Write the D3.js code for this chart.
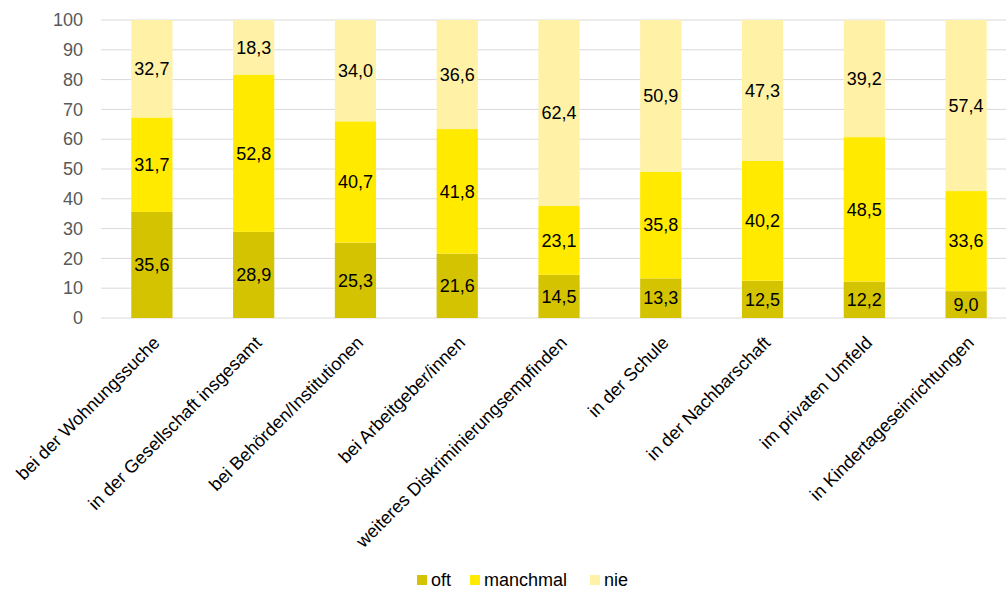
<!DOCTYPE html>
<html>
<head>
<meta charset="utf-8">
<script src="https://cdn.jsdelivr.net/npm/d3@7"></script>
<style>
  body { margin: 0; background: #fff; }
  svg { font-family: "Liberation Sans", Arial, sans-serif; }
</style>
</head>
<body>
<div class="chart"></div>
<script>
// categories and series values
const categories = [
    "bei der Wohnungssuche",
    "in der Gesellschaft insgesamt",
    "bei Behörden/Institutionen",
    "bei Arbeitgeber/innen",
    "weiteres Diskriminierungsempfinden",
    "in der Schule",
    "in der Nachbarschaft",
    "im privaten Umfeld",
    "in Kindertageseinrichtungen"
];
const oft = [35.6, 28.9, 25.3, 21.6, 14.5, 13.3, 12.5, 12.2, 9.0];
const manchmal = [31.7, 52.8, 40.7, 41.8, 23.1, 35.8, 40.2, 48.5, 33.6];
const nie = [32.7, 18.3, 34.0, 36.6, 62.4, 50.9, 47.3, 39.2, 57.4];
const seriesNames = ["oft", "manchmal", "nie"];
const yTicks = [0, 10, 20, 30, 40, 50, 60, 70, 80, 90, 100];

const W = 1006, H = 590;
const Margin = {top: 20, left: 101, bottom: 272};
const plotRight = 1017;

const svg = d3.select(".chart").append("svg")
    .attr("width", W).attr("height", H);

const rows = categories.map((c, i) => ({cat: c, oft: oft[i], manchmal: manchmal[i], nie: nie[i]}));
const stacked = d3.stack().keys(seriesNames)(rows);

const x = d3.scaleBand().domain(categories).range([Margin.left, plotRight]).paddingInner(0.595).paddingOuter(0.2975);
const y = d3.scaleLinear().domain([0, 100]).range([H - Margin.bottom, Margin.top]);
const color = d3.scaleOrdinal().domain(seriesNames).range(["#d3c300", "#ffea00", "#fff1a6"]);

// gridlines
svg.append("g").selectAll("line").data(yTicks).join("line")
    .attr("x1", Margin.left).attr("x2", W)
    .attr("y1", d => y(d)).attr("y2", d => y(d))
    .attr("stroke", "#d9d9d9").attr("stroke-width", 1);

// y axis labels
const yAxis = svg.append("g")
    .attr("transform", "translate(" + Margin.left + ",0)")
    .call(d3.axisLeft(y).tickValues(yTicks).tickSize(0).tickPadding(18));
yAxis.select(".domain").remove();
yAxis.selectAll("text")
    .attr("fill", "#595959")
    .style("font-size", "18px")
    .style("font-family", "Liberation Sans, Arial, sans-serif");

// bars
const layers = svg.append("g").selectAll("g").data(stacked).join("g")
    .attr("fill", d => color(d.key));
layers.selectAll("rect").data(d => d).join("rect")
    .attr("x", d => x(d.data.cat))
    .attr("width", x.bandwidth())
    .attr("y", d => y(d[1]))
    .attr("height", d => y(d[0]) - y(d[1]));

// value labels
const fmt = v => v.toFixed(1).replace(".", ",");
svg.append("g").selectAll("g").data(stacked).join("g")
    .selectAll("text").data(d => d.map(s => ({s, key: d.key}))).join("text")
    .attr("x", d => x(d.s.data.cat) + x.bandwidth() / 2)
    .attr("y", d => (y(d.s[0]) + y(d.s[1])) / 2)
    .attr("dy", "0.35em")
    .attr("text-anchor", "middle")
    .style("font-size", "18px")
    .attr("fill", "#000")
    .text(d => fmt(d.s[1] - d.s[0]));

// x axis labels
const xAxis = svg.append("g")
    .attr("transform", "translate(0," + (H - Margin.bottom) + ")")
    .call(d3.axisBottom(x).tickSize(0).tickPadding(0));
xAxis.select(".domain").remove();
xAxis.selectAll("text")
    .style("font-size", "18px")
    .style("font-family", "Liberation Sans, Arial, sans-serif")
    .attr("fill", "#000")
    .style("text-anchor", "end")
    .attr("dx", "0")
    .attr("dy", "0")
    .attr("transform", "translate(9,26) rotate(-45)");

// legend
const legendItems = [
    {name: "oft", x: 417},
    {name: "manchmal", x: 470},
    {name: "nie", x: 590}
];
const legend = svg.append("g").attr("transform", "translate(0,580)");
legend.selectAll("rect").data(legendItems).join("rect")
    .attr("x", d => d.x).attr("y", -5).attr("width", 10).attr("height", 10)
    .attr("fill", d => color(d.name));
legend.selectAll("text").data(legendItems).join("text")
    .attr("x", d => d.x + 14).attr("y", 0).attr("dy", "0.35em")
    .style("font-size", "18px").attr("fill", "#000")
    .text(d => d.name);
</script>
</body>
</html>
